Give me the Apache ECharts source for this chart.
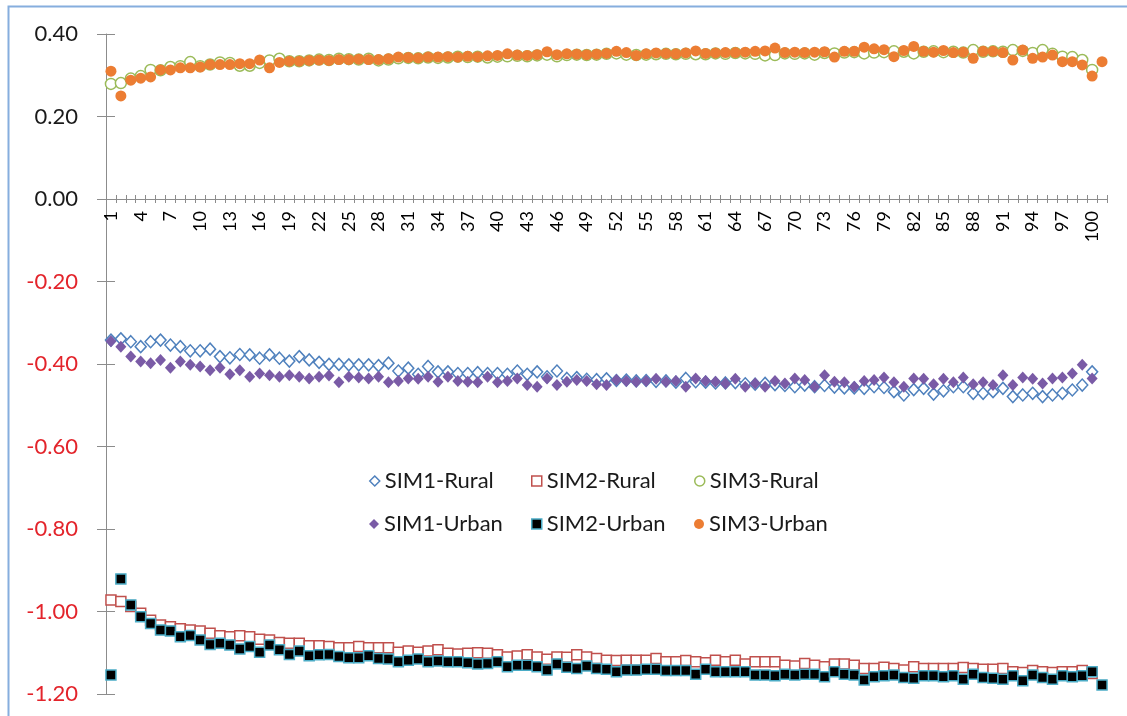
<!DOCTYPE html>
<html>
<head>
<meta charset="utf-8">
<style>
html,body{margin:0;padding:0;background:#fff;}
#chart{width:1127px;height:716px;}
</style>
<script src="https://cdn.jsdelivr.net/npm/echarts@6/dist/echarts.min.js"></script>
</head>
<body>
<div id="chart"></div>
<script>
const categories = [1,2,3,4,5,6,7,8,9,10,11,12,13,14,15,16,17,18,19,20,21,22,23,24,25,26,27,28,29,30,31,32,33,34,35,36,37,38,39,40,41,42,43,44,45,46,47,48,49,50,51,52,53,54,55,56,57,58,59,60,61,62,63,64,65,66,67,68,69,70,71,72,73,74,75,76,77,78,79,80,81,82,83,84,85,86,87,88,89,90,91,92,93,94,95,96,97,98,99,100,101];

const sim1Rural = [-0.342,-0.339,-0.346,-0.358,-0.346,-0.342,-0.354,-0.358,-0.368,-0.368,-0.364,-0.382,-0.385,-0.377,-0.378,-0.386,-0.378,-0.386,-0.393,-0.382,-0.390,-0.396,-0.401,-0.401,-0.402,-0.402,-0.402,-0.404,-0.398,-0.417,-0.410,-0.425,-0.406,-0.419,
-0.419,-0.423,-0.423,-0.421,-0.423,-0.423,-0.425,-0.417,-0.425,-0.419,-0.431,-0.417,-0.435,-0.433,-0.437,-0.438,-0.436,-0.440,-0.439,-0.441,-0.440,-0.442,-0.441,-0.444,-0.435,-0.443,-0.444,-0.446,-0.446,-0.445,-0.448,-0.449,-0.447,
-0.450,-0.452,-0.455,-0.451,-0.455,-0.452,-0.456,-0.458,-0.458,-0.459,-0.455,-0.457,-0.467,-0.475,-0.462,-0.459,-0.473,-0.465,-0.455,-0.455,-0.471,-0.471,-0.467,-0.459,-0.479,-0.475,-0.471,-0.479,-0.475,-0.471,-0.463,-0.451,-0.419];

const sim1Urban = [-0.345,-0.358,-0.382,-0.394,-0.398,-0.390,-0.409,-0.394,-0.402,-0.406,-0.415,-0.409,-0.425,-0.415,-0.431,-0.423,-0.427,-0.431,-0.427,-0.431,-0.435,-0.431,-0.428,-0.444,-0.431,-0.433,-0.435,-0.431,-0.444,-0.441,-0.435,-0.436,-0.431,-0.443,
-0.431,-0.441,-0.443,-0.444,-0.431,-0.444,-0.441,-0.435,-0.451,-0.455,-0.435,-0.451,-0.443,-0.439,-0.441,-0.449,-0.451,-0.439,-0.441,-0.443,-0.441,-0.436,-0.443,-0.441,-0.455,-0.435,-0.441,-0.443,-0.447,-0.436,-0.455,-0.447,-0.455,
-0.441,-0.447,-0.435,-0.439,-0.455,-0.427,-0.443,-0.444,-0.455,-0.441,-0.439,-0.433,-0.444,-0.455,-0.435,-0.436,-0.449,-0.436,-0.444,-0.433,-0.449,-0.444,-0.451,-0.427,-0.451,-0.433,-0.436,-0.447,-0.435,-0.433,-0.423,-0.402,-0.435];

const sim2Rural = [-0.972,-0.976,-0.988,-1.004,-1.021,-1.033,-1.037,-1.042,-1.045,-1.047,-1.053,-1.059,-1.061,-1.059,-1.061,-1.067,-1.069,-1.075,-1.077,-1.077,-1.083,-1.083,-1.085,-1.088,-1.088,-1.085,-1.088,-1.088,-1.088,-1.099,-1.096,-1.099,-1.096,-1.093,
-1.101,-1.103,-1.101,-1.100,-1.101,-1.105,-1.110,-1.108,-1.105,-1.110,-1.116,-1.110,-1.111,-1.105,-1.110,-1.114,-1.118,-1.119,-1.118,-1.118,-1.118,-1.114,-1.122,-1.122,-1.119,-1.122,-1.124,-1.118,-1.122,-1.118,-1.127,-1.122,-1.122,
-1.122,-1.130,-1.132,-1.126,-1.130,-1.134,-1.127,-1.127,-1.130,-1.138,-1.138,-1.135,-1.138,-1.142,-1.134,-1.138,-1.138,-1.138,-1.138,-1.136,-1.138,-1.140,-1.140,-1.138,-1.146,-1.148,-1.143,-1.146,-1.148,-1.146,-1.146,-1.143,-1.150];

const sim2Urban = [-1.154,-0.921,-0.984,-1.013,-1.029,-1.045,-1.047,-1.061,-1.058,-1.069,-1.080,-1.077,-1.081,-1.091,-1.085,-1.099,-1.081,-1.093,-1.104,-1.096,-1.107,-1.105,-1.104,-1.109,-1.112,-1.112,-1.107,-1.114,-1.115,-1.122,-1.118,-1.115,-1.122,-1.120,
-1.122,-1.122,-1.124,-1.127,-1.126,-1.122,-1.134,-1.130,-1.130,-1.134,-1.142,-1.127,-1.135,-1.138,-1.132,-1.138,-1.140,-1.146,-1.142,-1.142,-1.140,-1.140,-1.143,-1.143,-1.143,-1.152,-1.140,-1.146,-1.146,-1.146,-1.146,-1.154,-1.154,
-1.156,-1.152,-1.154,-1.152,-1.152,-1.158,-1.146,-1.152,-1.154,-1.166,-1.158,-1.156,-1.154,-1.160,-1.162,-1.156,-1.156,-1.158,-1.156,-1.164,-1.152,-1.160,-1.162,-1.164,-1.156,-1.168,-1.154,-1.160,-1.164,-1.156,-1.158,-1.156,-1.146,-1.178];

const sim3Rural = [0.279,0.281,0.292,0.298,0.313,0.312,0.320,0.322,0.332,0.322,0.326,0.331,0.330,0.323,0.323,0.330,0.336,0.340,0.334,0.334,0.336,0.338,0.337,0.340,0.339,0.338,0.340,0.336,0.338,0.341,0.342,0.341,0.343,0.342,
0.343,0.345,0.344,0.345,0.343,0.345,0.346,0.347,0.346,0.348,0.350,0.346,0.349,0.350,0.349,0.350,0.352,0.353,0.350,0.349,0.350,0.351,0.352,0.351,0.352,0.351,0.351,0.353,0.352,0.354,0.353,0.352,0.348,
0.349,0.353,0.352,0.353,0.350,0.354,0.353,0.355,0.356,0.353,0.355,0.356,0.358,0.357,0.353,0.357,0.358,0.356,0.357,0.355,0.361,0.357,0.358,0.357,0.361,0.359,0.354,0.361,0.352,0.345,0.344,0.337,0.313];

const sim3Urban = [0.310,0.250,0.288,0.293,0.296,0.313,0.313,0.318,0.318,0.320,0.326,0.326,0.326,0.328,0.328,0.337,0.318,0.331,0.334,0.334,0.336,0.337,0.336,0.338,0.338,0.339,0.338,0.338,0.340,0.344,0.343,0.342,0.344,0.344,
0.345,0.344,0.346,0.345,0.347,0.348,0.352,0.349,0.348,0.350,0.357,0.350,0.352,0.351,0.350,0.351,0.353,0.358,0.355,0.348,0.352,0.354,0.353,0.352,0.354,0.359,0.353,0.354,0.355,0.355,0.356,0.358,0.359,
0.366,0.355,0.356,0.355,0.356,0.357,0.344,0.358,0.358,0.368,0.364,0.362,0.345,0.360,0.370,0.358,0.356,0.360,0.355,0.356,0.341,0.358,0.358,0.355,0.337,0.361,0.341,0.344,0.349,0.333,0.333,0.325,0.298,0.333];

const seriesNames = ['SIM1-Rural','SIM2-Rural','SIM3-Rural','SIM1-Urban','SIM2-Urban','SIM3-Urban'];
const yMin = -1.2, yMax = 0.4, yStep = 0.2;

const FONT = 'Lato';
const axisGray = '#8c8c8c';

// pixel frame of the plot (layout only)
const PL = 106, PR = 20, PT = 34, PB = 22;
const plotH = 716 - PT - PB;
const upperH = plotH * (yMax - 0) / (yMax - yMin);   // part of plot above value 0

function mkSeries(name, data, symbol, size, style) {
  return {
    name: name, type: 'line', data: data,
    xAxisIndex: 2, yAxisIndex: 2,
    symbol: symbol, symbolSize: size,
    showSymbol: true, showAllSymbol: true,
    lineStyle: {width: 0, opacity: 0},
    itemStyle: style,
    emphasis: {disabled: true},
    silent: true,
    animation: false
  };
}

const legendDefs = [
  {name: seriesNames[0], icon: 'diamond', st: {color:'#fff', borderColor:'#4f81bd', borderWidth:1.5}, left: 364, top: 465},
  {name: seriesNames[1], icon: 'rect', st: {color:'#fff', borderColor:'#c0504d', borderWidth:1.5}, left: 526, top: 465},
  {name: seriesNames[2], icon: 'circle', st: {color:'#fff', borderColor:'#9bbb59', borderWidth:1.5}, left: 689, top: 465},
  {name: seriesNames[3], icon: 'diamond', st: {color:'#7a5ba6', borderWidth:0}, left: 364, top: 508},
  {name: seriesNames[4], icon: 'rect', st: {color:'#000', borderColor:'#4bacc6', borderWidth:1.5}, left: 526, top: 508},
  {name: seriesNames[5], icon: 'circle', st: {color:'#ec7d33', borderWidth:0}, left: 689, top: 508}
];

const chart = echarts.init(document.getElementById('chart'), null, {renderer: 'canvas'});
chart.setOption({
  backgroundColor: '#fff',
  animation: false,
  graphic: [{
    type: 'rect', left: 6, top: 4, z: 100,
    shape: {width: 1300, height: 900},
    style: {fill: 'none', stroke: '#86aede', lineWidth: 2}
  }],
  grid: [
    {left: PL, right: PR, top: PT, height: upperH, containLabel: false, outerBoundsMode: 'none'},
    {left: PL, right: PR, top: PT, height: upperH, containLabel: false, outerBoundsMode: 'none'},
    {left: PL, right: PR, top: PT, bottom: PB, containLabel: false, outerBoundsMode: 'none'}
  ],
  legend: legendDefs.map(d => ({
    data: [{name: d.name, icon: d.icon, itemStyle: d.st}],
    left: d.left, top: d.top,
    itemWidth: 10, itemHeight: 10,
    selectedMode: false,
    textStyle: {fontFamily: FONT, fontSize: 22, color: '#1a1a1a'}
  })),
  xAxis: [{
    gridIndex: 0, type: 'category', data: categories, boundaryGap: true, position: 'bottom',
    axisLine: {onZero: false, lineStyle: {color: axisGray, width: 1}},
    axisTick: {show: true, interval: 0, length: 4, lineStyle: {color: axisGray}},
    axisLabel: {interval: 2, rotate: 90, margin: 12, fontSize: 18, fontFamily: FONT, color: '#000'},
    splitLine: {show: false}
  }, {
    gridIndex: 1, type: 'category', data: categories, boundaryGap: true, position: 'bottom',
    axisLine: {show: false, onZero: false},
    axisTick: {show: true, inside: true, interval: 0, length: 4, lineStyle: {color: axisGray}},
    axisLabel: {show: false},
    splitLine: {show: false}
  }, {
    gridIndex: 2, type: 'category', data: categories, boundaryGap: true, show: false
  }],
  yAxis: [{
    gridIndex: 0, type: 'value', min: 0, max: yMax, show: false
  }, {
    gridIndex: 1, type: 'value', min: 0, max: yMax, show: false
  }, {
    gridIndex: 2, type: 'value', min: yMin, max: yMax, interval: yStep, position: 'left',
    axisLine: {show: true, onZero: false, lineStyle: {color: axisGray, width: 1}},
    axisTick: {show: true, length: 9, lineStyle: {color: axisGray}},
    axisLabel: {
      margin: 28, fontSize: 22, fontFamily: FONT,
      formatter: v => v.toFixed(2),
      color: v => (v < -1e-9 ? '#e3242b' : '#1a1a1a')
    },
    splitLine: {show: false}
  }, {
    gridIndex: 2, type: 'value', min: yMin, max: yMax, interval: yStep, position: 'left',
    axisLine: {show: false, onZero: false},
    axisTick: {show: true, inside: true, length: 9, lineStyle: {color: axisGray}},
    axisLabel: {show: false},
    splitLine: {show: false}
  }],
  series: [
    mkSeries(seriesNames[0], sim1Rural, 'diamond', [11,12], {color:'#fff', borderColor:'#4f81bd', borderWidth:1.5}),
    mkSeries(seriesNames[1], sim2Rural, 'rect', 10, {color:'#fff', borderColor:'#c0504d', borderWidth:1.5}),
    mkSeries(seriesNames[2], sim3Rural, 'circle', 11, {color:'#fff', borderColor:'#9bbb59', borderWidth:1.5}),
    mkSeries(seriesNames[3], sim1Urban, 'diamond', [11,12], {color:'#7a5ba6', borderWidth:0}),
    mkSeries(seriesNames[4], sim2Urban, 'rect', 10, {color:'#000', borderColor:'#4bacc6', borderWidth:1.5}),
    mkSeries(seriesNames[5], sim3Urban, 'circle', 11, {color:'#ec7d33', borderWidth:0})
  ]
});
</script>
</body>
</html>
